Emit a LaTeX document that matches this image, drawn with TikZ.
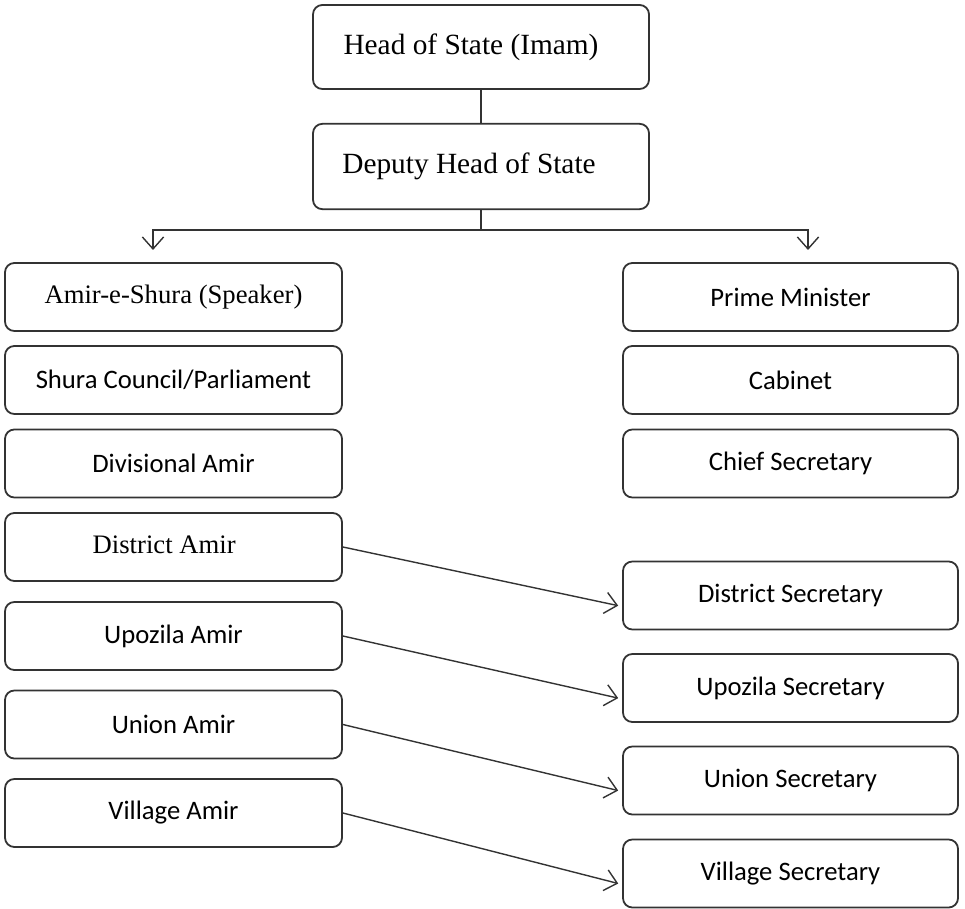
\documentclass[tikz,border=0pt]{standalone}
\usepackage{fontspec}
\setmainfont{Liberation Serif}
\newfontfamily\calibri{Carlito}
\usetikzlibrary{arrows.meta, calc, positioning}
\definecolor{BoxLine}{HTML}{333333}

\begin{document}
\begin{tikzpicture}[x=0.75pt, y=-0.75pt,
   box/.style={draw=BoxLine, line width=1.35pt, rounded corners=7pt, inner sep=0pt,
      minimum height=51pt, align=center},
   lbox/.style={box, minimum width=252.75pt},
   rbox/.style={box, minimum width=251.25pt},
   serif/.style={font=\fontsize{20}{24}\selectfont},
   sans/.style={font=\calibri\fontsize{20}{24}\selectfont},
   link/.style={draw=BoxLine, line width=1.05pt},
   flow/.style={link, -{Straight Barb[length=9pt, width=16pt]}}]
   \useasboundingbox (0,0) rectangle (965,909);
   % Top of the chart
   \node[box, minimum width=252pt, minimum height=63pt, font=\fontsize{22}{26}\selectfont]
      (head) at (481,47) {Head of State (Imam)\kern15pt};
   \node[box, minimum width=252pt, minimum height=64pt, font=\fontsize{22}{26}\selectfont]
      (deputy) at (481,166.5) {Deputy Head of State\kern18pt};
   \draw[link] (head) -- (deputy);
   % Branch to both columns
   \coordinate (jn) at (481,230);
   \coordinate (lt) at (153,250);
   \coordinate (rt) at (808,250);
   \draw[link] (deputy.south) -- (jn);
   \draw[flow] (jn) -| (lt);
   \draw[flow] (jn) -| (rt);
   % Left column: Amirs
   \node[lbox, serif] (shura) at (173.5,297) {Amir-e-Shura (Speaker)};
   \node[lbox, sans] (council) at (173.5,380) {Shura Council/Parliament};
   \node[lbox, sans] (divamir) at (173.5,463.5) {Divisional Amir};
   \node[lbox, serif] (disamir) at (173.5,547) {\raisebox{3pt}{District Amir}\kern14pt};
   \node[lbox, sans] (upoamir) at (173.5,636) {\raisebox{2pt}{Upozila Amir}};
   \node[lbox, sans] (uniamir) at (173.5,724.5) {Union Amir};
   \node[lbox, sans] (vilamir) at (173.5,813) {\raisebox{2pt}{Village Amir}};
   % Right column: executive
   \node[rbox, sans] (prime) at (790.5,297) {Prime Minister};
   \node[rbox, sans] (cabinet) at (790.5,380) {Cabinet};
   \node[rbox, sans] (chief) at (790.5,463.5) {Chief Secretary};
   \node[rbox, sans] (dissec) at (790.5,595.5) {District Secretary};
   \node[rbox, sans] (uposec) at (790.5,688) {\raisebox{3pt}{Upozila Secretary}};
   \node[rbox, sans] (unisec) at (790.5,780.5) {\raisebox{3pt}{Union Secretary}};
   \node[rbox, sans] (vilsec) at (790.5,873.5) {Village Secretary};
   % Amir -> Secretary links
   \foreach \a/\s in {disamir/dissec, upoamir/uposec, uniamir/unisec, vilamir/vilsec}
      \draw[flow, shorten >=3pt] (\a.east) -- ($(\s.west)+(0,11)$);
\end{tikzpicture}
\end{document}
